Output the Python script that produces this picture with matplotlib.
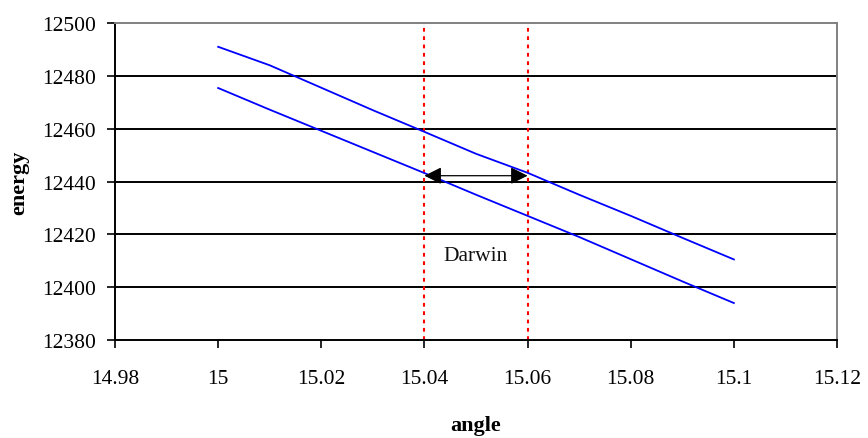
import matplotlib
matplotlib.use("Agg")
import matplotlib.pyplot as plt

# Angle grid (degrees) and the two energy curves
angle = [15.00, 15.01, 15.02, 15.03, 15.04, 15.05, 15.06, 15.07, 15.08, 15.09, 15.10]
energy_upper = [12491.0, 12484.0, 12475.5, 12467.0, 12458.8, 12450.5, 12443.3,
                12435.0, 12427.0, 12418.7, 12410.5]
energy_lower = [12475.4, 12467.2, 12459.2, 12451.2, 12443.2, 12435.0, 12427.0,
                12419.0, 12410.6, 12402.2, 12394.0]

# Darwin width markers
darwin_lo = 15.04
darwin_hi = 15.06
arrow_energy = 12442.2
label_energy = 12412.0

x_ticks = [14.98, 15.00, 15.02, 15.04, 15.06, 15.08, 15.10, 15.12]
x_tick_labels = ["14.98", "15", "15.02", "15.04", "15.06", "15.08", "15.1", "15.12"]
y_ticks = [12380, 12400, 12420, 12440, 12460, 12480, 12500]

plt.rcParams["font.family"] = ["Liberation Serif", "DejaVu Serif"]

fig = plt.figure(figsize=(8.68, 4.39), dpi=100)
ax = fig.add_axes([0.1325, 0.2232, 0.8318, 0.7221])

ax.set_xlim(14.98, 15.12)
ax.set_ylim(12380, 12500)

# Horizontal gridlines
for y in y_ticks[1:-1]:
    ax.axhline(y, color="black", lw=1.4, zorder=1)

ax.plot(angle, energy_upper, color="#0000ff", lw=1.3, zorder=3)
ax.plot(angle, energy_lower, color="#0000ff", lw=1.3, zorder=3)

for xv in (darwin_lo, darwin_hi):
    ax.axvline(xv, color="#ff0000", lw=1.5, linestyle=(0, (1.8, 2.2)), zorder=2)

ax.annotate("", xy=(darwin_lo, arrow_energy), xytext=(darwin_hi, arrow_energy),
            arrowprops=dict(arrowstyle="<|-|>", color="black", lw=0.9,
                            mutation_scale=26, shrinkA=0, shrinkB=0),
            zorder=4)
ax.text((darwin_lo + darwin_hi) / 2, label_energy, "Darwin", ha="center", va="center",
        fontsize=15.5, color="#111111")

ax.set_xticks(x_ticks)
ax.set_xticklabels(x_tick_labels)
ax.set_yticks(y_ticks)
ax.tick_params(axis="both", direction="out", length=6, width=1.2, labelsize=15.5,
               color="black")
ax.tick_params(axis="x", pad=15)
ax.tick_params(axis="y", pad=8)

for side in ("left", "bottom"):
    ax.spines[side].set_color("black")
    ax.spines[side].set_linewidth(1.4)
for side in ("top", "right"):
    ax.spines[side].set_color("#808080")
    ax.spines[side].set_linewidth(1.4)

ax.set_xlabel("angle", fontsize=16, fontweight="bold", labelpad=19)
ax.set_ylabel("energy", fontsize=16, fontweight="bold", labelpad=9)

fig.savefig("out.png", dpi=100)
